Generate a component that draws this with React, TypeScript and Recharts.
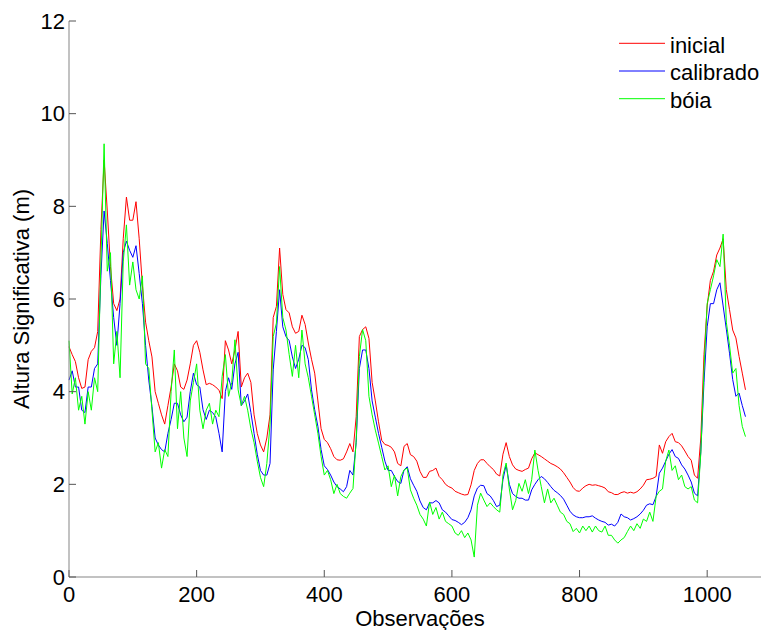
import { Legend, Line, LineChart, XAxis, YAxis } from "recharts";

// observações amostradas de 5 em 5 (0 .. 1060)
const passo = 5;

const inicial = [
  4.97, 4.8, 4.65, 4.3, 4.07, 4.1, 4.69, 4.87, 4.95, 5.3,
  7.5, 9.0, 7.9, 6.7, 5.9, 5.75, 6.0, 7.3, 8.2, 7.7,
  7.7, 8.1, 7.3, 6.3, 5.5, 5.1, 4.75, 4.0, 3.75, 3.5,
  3.3, 3.7, 4.1, 4.6, 4.45, 4.1, 4.05, 4.25, 4.6, 5.0,
  5.1, 4.85, 4.47, 4.15, 4.18, 4.15, 4.1, 4.03, 3.85, 5.1,
  4.9, 4.6, 4.9, 5.3, 4.1, 4.3, 4.4, 4.2, 3.5, 3.1,
  2.85, 2.7, 3.0, 3.5, 5.6, 5.84, 7.1, 6.1, 5.77, 5.7,
  5.4, 5.26, 5.3, 5.65, 5.45, 5.05, 4.7, 4.4, 3.8, 3.2,
  2.97, 2.9, 2.77, 2.6, 2.53, 2.52, 2.55, 2.7, 2.88, 2.7,
  3.46, 5.19, 5.34, 5.4, 5.15, 4.2, 3.8, 3.35, 2.95, 2.86,
  2.84, 2.8, 2.7, 2.45, 2.4, 2.82, 2.88, 2.64, 2.6, 2.5,
  2.28, 2.15, 2.15, 2.28, 2.3, 2.35, 2.17, 2.1, 2.0, 1.95,
  1.92, 1.85, 1.82, 1.79, 1.77, 1.78, 1.99, 2.3, 2.45, 2.53,
  2.53, 2.45, 2.38, 2.32, 2.22, 2.18, 2.65, 2.9, 2.6, 2.42,
  2.33, 2.3, 2.28, 2.32, 2.35, 2.55, 2.68, 2.64, 2.6, 2.55,
  2.5, 2.45, 2.42, 2.38, 2.33, 2.25, 2.15, 2.05, 1.93, 1.86,
  1.85, 1.92, 1.97, 2.0, 1.98, 1.99, 1.97, 1.95, 1.92, 1.84,
  1.82, 1.78, 1.78, 1.82, 1.84, 1.81, 1.83, 1.81, 1.84, 1.9,
  1.98, 2.1, 2.11, 2.13, 2.17, 2.85, 2.67, 2.92, 3.03, 3.1,
  2.92, 2.9, 2.83, 2.72, 2.6, 2.52, 2.2, 2.13, 3.0, 4.8,
  5.85, 6.4, 6.6, 6.95, 7.1, 7.3, 6.2, 5.77, 5.33, 5.16,
  4.76, 4.4, 4.04,
];

const calibrado = [
  4.25, 4.45, 4.1, 4.1, 3.6, 3.55, 4.1, 4.1, 4.5, 4.6,
  6.5, 7.9, 7.2, 6.4, 5.6, 5.0, 5.9, 7.0, 7.25, 7.05,
  6.9, 7.15, 6.55, 5.9, 5.0, 4.25, 3.68, 3.0, 2.85, 2.75,
  2.7, 3.1, 3.4, 3.75, 3.75, 3.5, 3.35, 3.45, 4.0, 4.4,
  4.15, 4.1, 3.61, 3.4, 3.6, 3.55, 3.45, 3.1, 2.7, 4.0,
  4.3, 4.05, 4.6, 4.85, 3.7, 3.8, 3.95, 3.55, 3.1, 2.65,
  2.3, 2.2, 2.2, 2.45, 4.47, 5.3, 6.2, 5.4, 5.19, 5.1,
  4.75, 4.5, 4.7, 5.0, 4.95, 4.69, 4.04, 3.61, 3.25, 2.75,
  2.4, 2.32, 2.2, 2.05, 1.95, 1.9, 1.84, 1.95, 2.3, 2.2,
  2.9, 4.5, 4.9, 4.9, 4.5, 3.8, 3.45, 3.1, 2.8, 2.5,
  2.3, 2.3, 2.17, 2.06, 2.02, 2.31, 2.38, 2.12, 1.98, 1.85,
  1.64, 1.5, 1.45, 1.6, 1.6, 1.65, 1.6, 1.45, 1.4, 1.32,
  1.24, 1.22, 1.18, 1.13, 1.18, 1.28, 1.45, 1.75, 1.92, 1.98,
  1.97, 1.8, 1.75, 1.65, 1.52, 1.55, 2.1, 2.42, 2.0, 1.8,
  1.74, 1.7, 1.7, 1.66, 1.66, 1.88, 2.0, 2.1, 2.17, 2.12,
  2.04, 1.95, 1.87, 1.82, 1.76, 1.68, 1.55, 1.42, 1.34, 1.3,
  1.28, 1.28, 1.3, 1.3, 1.32, 1.27, 1.23, 1.2, 1.18, 1.12,
  1.14, 1.1, 1.18, 1.36, 1.3, 1.28, 1.23, 1.26, 1.3, 1.36,
  1.44, 1.55, 1.58, 1.56, 1.74, 2.24, 2.35, 2.5, 2.65, 2.75,
  2.6, 2.56, 2.42, 2.33, 2.2, 2.05, 1.81, 1.75, 2.7, 4.2,
  5.4, 5.9, 5.9, 6.2, 6.35, 5.85, 5.35, 4.83, 4.26, 3.9,
  3.97, 3.7, 3.46,
];

const boia = [
  5.1, 3.95, 4.3, 3.6, 3.9, 3.3, 4.0, 3.6, 4.3, 4.0,
  6.8, 9.35, 6.6, 7.0, 4.6, 5.3, 4.3, 6.8, 7.6, 6.3,
  6.8, 6.2, 6.0, 6.5, 4.6, 4.5, 3.6, 2.7, 2.9, 2.35,
  2.75, 2.6, 4.0, 4.9, 3.2, 4.0, 3.0, 2.6, 3.8, 4.2,
  4.6, 3.6, 3.2, 3.6, 3.75, 3.3, 3.6, 3.46, 4.33, 4.8,
  3.9, 4.2, 5.12, 4.04, 3.7, 3.9, 3.6, 3.2, 2.9, 2.5,
  2.15, 1.95, 2.45, 3.3, 5.19, 5.48, 6.7, 5.6, 5.33, 4.8,
  4.33, 5.0, 4.3, 5.33, 4.6, 4.3, 3.9, 3.5, 3.1, 2.6,
  2.2, 2.3, 2.1, 1.8, 2.0, 1.8, 1.74, 1.7, 1.81, 1.91,
  2.96, 4.76, 5.34, 5.1, 3.9, 3.5, 3.17, 2.89, 2.6, 2.31,
  2.4, 1.95, 2.2, 1.75, 2.17, 2.31, 2.35, 1.88, 1.7, 1.55,
  1.35, 1.25, 1.1, 1.62, 1.35, 1.5, 1.25, 1.4, 1.2, 1.15,
  1.1, 0.95, 0.9, 1.0, 0.85, 0.95, 0.8, 0.43, 1.55, 1.81,
  1.66, 1.52, 1.6, 1.52, 1.45, 1.4, 2.2, 2.46, 1.9, 1.45,
  1.65, 2.02, 1.85, 2.1, 1.8, 2.1, 2.74, 2.3, 1.95, 1.6,
  1.9, 1.6, 1.7, 1.55, 1.4, 1.35, 1.2, 1.15, 0.98, 1.05,
  0.95, 1.1, 1.0, 1.1, 0.97, 1.1, 1.0, 0.97, 1.1, 0.9,
  0.9, 0.8, 0.73, 0.8, 0.85, 0.98, 1.1, 1.0, 1.15, 1.05,
  1.25, 1.2, 1.4, 1.2, 1.74, 1.85, 1.9, 2.5, 2.74, 2.3,
  2.4, 2.1, 2.2, 1.95, 1.9, 1.95, 1.66, 1.6, 2.67, 4.47,
  5.9, 6.2, 6.5, 6.85, 6.7, 7.4, 5.5, 5.0, 4.4, 4.5,
  3.7, 3.25, 3.03,
];

const series = ["inicial", "calibrado", "bóia"];
const xTicks = [0, 200, 400, 600, 800, 1000];
const yTicks = [0, 2, 4, 6, 8, 10, 12];

const dados = inicial.map((v, i) => ({
  obs: i * passo,
  inicial: v,
  calibrado: calibrado[i],
  boia: boia[i],
}));

const cinza = "#858585";
const fonte = 22;

function TituloY(props: any) {
  const vb = props.viewBox || { x: 0, y: 21, width: 69, height: 556 };
  const x = vb.x + 29;
  const y = vb.y + vb.height / 2;
  return (
    <text x={x} y={y} transform={`rotate(-90, ${x}, ${y})`} textAnchor="middle" fontSize={fonte} fill="#000">
      Altura Significativa (m)
    </text>
  );
}

function TituloX(props: any) {
  const vb = props.viewBox || { x: 69, y: 577, width: 702, height: 53 };
  return (
    <text x={vb.x + vb.width / 2} y={vb.y + 49} textAnchor="middle" fontSize={fonte} fill="#000">
      Observações
    </text>
  );
}

function Legenda(props: any) {
  const itens = [...(props.payload || [])].sort(
    (a: any, b: any) => series.indexOf(a.value) - series.indexOf(b.value)
  );
  return (
    <svg width={150} height={90}>
      {itens.map((item: any, i: number) => {
        const y = 13.3 + i * 27.7;
        return (
          <g key={item.value}>
            <line x1={0} x2={46} y1={y} y2={y} stroke={item.color} strokeWidth={1} />
            <text x={51} y={y + 9.4} fontSize={fonte} fill="#000">
              {item.value}
            </text>
          </g>
        );
      })}
    </svg>
  );
}

export default function App() {
  return (
    <div
      style={{
        position: "absolute",
        left: 0,
        top: 0,
        width: 761,
        height: 630,
        overflow: "hidden",
        background: "#fff",
        fontFamily: "Arial, 'Liberation Sans', sans-serif",
      }}
    >
      <LineChart width={771} height={630} data={dados} margin={{ top: 21, right: 0, bottom: 0, left: 0 }}>
        <XAxis
          dataKey="obs"
          type="number"
          domain={[0, 1100]}
          ticks={xTicks}
          interval={0}
          height={53}
          tickSize={-7}
          tickMargin={16}
          tick={{ fill: "#000", fontSize: fonte }}
          axisLine={{ stroke: cinza }}
          tickLine={{ stroke: "#555" }}
          label={TituloX}
        />
        <XAxis
          xAxisId="topo"
          orientation="top"
          dataKey="obs"
          type="number"
          domain={[0, 1100]}
          ticks={xTicks}
          interval={0}
          height={0}
          tickSize={-7}
          tick={false}
          axisLine={{ stroke: cinza }}
          tickLine={{ stroke: "#555" }}
        />
        <YAxis
          type="number"
          domain={[0, 12]}
          ticks={yTicks}
          interval={0}
          width={69}
          tickSize={-7}
          tickMargin={11}
          tick={{ fill: "#000", fontSize: fonte }}
          axisLine={{ stroke: cinza }}
          tickLine={{ stroke: "#555" }}
          label={TituloY}
        />
        <Legend
          layout="vertical"
          align="center"
          verticalAlign="middle"
          wrapperStyle={{ left: 619, top: 30, width: 150, height: 90 }}
          content={Legenda}
        />
        <Line type="linear" dataKey="inicial" name="inicial" stroke="#ff0000" strokeWidth={1} dot={false} isAnimationActive={false} />
        <Line type="linear" dataKey="calibrado" name="calibrado" stroke="#0000ff" strokeWidth={1} dot={false} isAnimationActive={false} />
        <Line type="linear" dataKey="boia" name="bóia" stroke="#00ff00" strokeWidth={1} dot={false} isAnimationActive={false} />
      </LineChart>
    </div>
  );
}
